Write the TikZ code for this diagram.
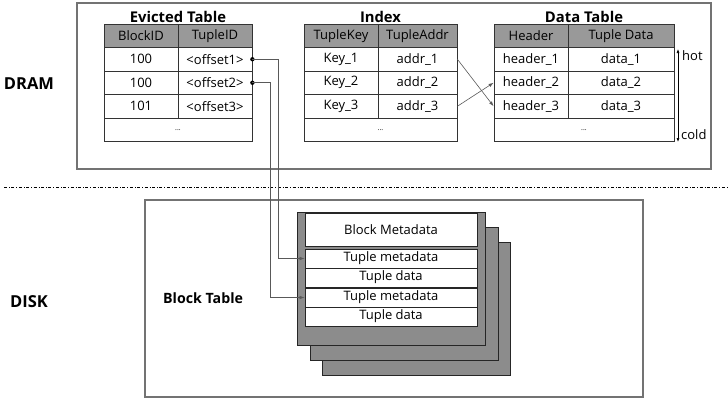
\documentclass[tikz,border=0pt]{standalone}
\usepackage{fontspec}
\setmainfont{Open Sans}
\usetikzlibrary{arrows.meta,positioning,calc}

\begin{document}
\begin{tikzpicture}[x=1pt,y=-1pt,>=Latex,
  cell/.style={draw=black!80,line width=0.8pt,minimum height=23.5pt,inner sep=0pt,font=\fontsize{13}{15}\selectfont},
  head/.style={cell,fill=black!40},
  title/.style={font=\fontsize{14.8}{17}\selectfont\bfseries,inner sep=1pt},
  area/.style={draw=black!55,line width=1.3pt},
  block/.style={draw=black!85,line width=0.9pt,fill=black!45,inner sep=0pt,minimum width=188pt,minimum height=133pt},
  slot/.style={draw=black!85,line width=0.8pt,fill=white,inner sep=0pt,minimum width=172pt,minimum height=19pt,font=\fontsize{13}{15}\selectfont},
  ptr/.style={->,>={Latex[length=5pt,width=3.5pt]},draw=black!65,line width=0.6pt}]
  \useasboundingbox (0,0) rectangle (728,399);

  % memory areas
  \draw[area] (77,3) rectangle (711,169);
  \draw[area] (145,200) rectangle (643,397);
  \draw[dash dot,line width=0.8pt] (4,187) -- (728,187);
  \node[font=\fontsize{16.5}{18}\selectfont\bfseries] (dram) at (29,84) {DRAM};
  \node[font=\fontsize{16.5}{18}\selectfont\bfseries] (disk) at (29,302) {DISK};

  % evicted table
  \node[head,minimum width=74pt] (evha) at (141,35.75) {BlockID};
  \node[head,minimum width=74pt] (evhb) at (215,35.75) {TupleID};
  \foreach \i/\y/\a/\b in {1/59.25/100/{<offset1>},2/82.75/100/{<offset2>},3/106.25/101/{<offset3>}}{
    \node[cell,minimum width=74pt] (ev\i a) at (141,\y) {\a};
    \node[cell,minimum width=74pt] (ev\i b) at (215,\y) {\b};
  }
  \node[cell,minimum width=148pt,font=\scriptsize] (evdots) at (178,129.75) {...};
  \node[title,above=0pt of {$(evha.north west)!0.5!(evhb.north east)$}] (evtitle) {Evicted Table};

  % index
  \node[head,minimum width=74pt] (ixha) at (341,35.75) {TupleKey};
  \node[head,minimum width=79pt] (ixhb) at (417.5,35.75) {TupleAddr};
  \foreach \i/\y in {1/59.25,2/82.75,3/106.25}{
    \node[cell,minimum width=74pt] (ix\i a) at (341,\y) {Key\_\i};
    \node[cell,minimum width=79pt] (ix\i b) at (417.5,\y) {addr\_\i};
  }
  \node[cell,minimum width=153pt,font=\scriptsize] (ixdots) at (380.5,129.75) {...};
  \node[title,above=0pt of {$(ixha.north west)!0.5!(ixhb.north east)$}] (ixtitle) {Index};

  % data table
  \node[head,minimum width=74pt] (dtha) at (531,35.75) {Header};
  \node[head,minimum width=106pt] (dthb) at (621,35.75) {Tuple Data};
  \foreach \i/\y in {1/59.25,2/82.75,3/106.25}{
    \node[cell,minimum width=74pt] (dt\i a) at (531,\y) {header\_\i};
    \node[cell,minimum width=106pt] (dt\i b) at (621,\y) {data\_\i};
  }
  \node[cell,minimum width=180pt,font=\scriptsize] (dtdots) at (584,129.75) {...};
  \node[title,above=0pt of {$(dtha.north west)!0.5!(dthb.north east)$}] (dttitle) {Data Table};

  % hot / cold
  \coordinate (hotend) at (678,49);
  \coordinate (coldend) at (678,142);
  \draw[<->,>={Latex[length=4pt,width=3pt]},line width=0.6pt] (hotend) -- (coldend);
  \node[anchor=west,inner sep=1pt,font=\fontsize{13}{15}\selectfont] (hot) at (681,56) {hot};
  \node[anchor=west,inner sep=1pt,font=\fontsize{13}{15}\selectfont] (cold) at (680,135) {cold};

  % index -> data
  \draw[ptr] (ix1b.east) -- (dt3a.west);
  \draw[ptr] (ix3b.east) -- (dt2a.west);

  % block table
  \node[font=\fontsize{14.2}{16}\selectfont\bfseries,anchor=west,inner sep=0pt] (blktitle) at (163,298) {Block Table};
  \node[block] (blk3) at (416,308.5) {};
  \node[block] (blk2) at (404,293.5) {};
  \node[block] (blk1) at (391,278.5) {};
  \node[slot,minimum height=33pt] (meta) at (391,229.5) {Block Metadata};
  \node[slot] (tm1) at (391,258.5) {Tuple metadata};
  \node[slot] (td1) at (391,277.5) {Tuple data};
  \node[slot] (tm2) at (391,297.5) {Tuple metadata};
  \node[slot] (td2) at (391,316.5) {Tuple data};

  % evicted -> disk
  \fill (ev1b.east) circle (2.2pt);
  \fill (ev2b.east) circle (2.2pt);
  \draw[ptr] (ev1b.east) -- ++(26,0) |- (tm1.west);
  \draw[ptr] (ev2b.east) -- ++(18,0) |- (tm2.west);
\end{tikzpicture}
\end{document}
